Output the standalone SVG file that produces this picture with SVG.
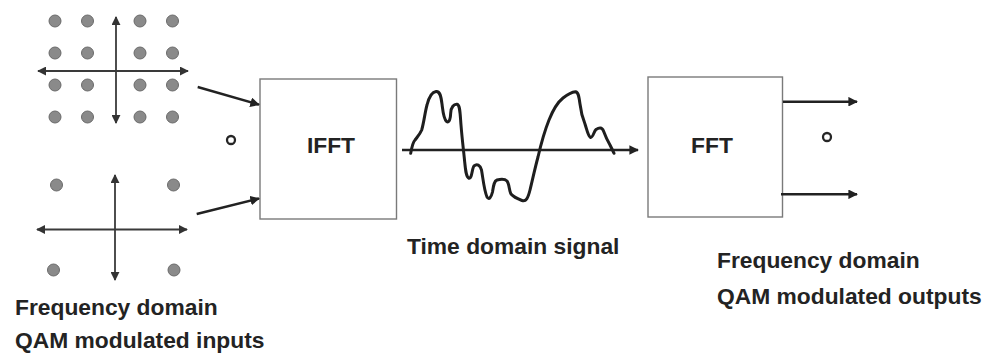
<svg xmlns="http://www.w3.org/2000/svg" width="986" height="354" viewBox="0 0 986 354">
  <style>
    .lbl { font-family: "Liberation Sans", Arial, sans-serif; font-weight: bold; font-size: 22.8px; fill: #232323; }
    .box { fill: #ffffff; stroke: #7a7a7a; stroke-width: 1.4; }
    .axis { stroke: #3a3a3a; stroke-width: 1.8; fill: none; }
    .conn { stroke: #222222; stroke-width: 2.4; fill: none; }
    .dot { fill: #8a8a8a; stroke: #6a6a6a; stroke-width: 1; }
    .ring { fill: none; stroke: #262626; stroke-width: 2.3; }
    .wave { fill: none; stroke: #1e1e1e; stroke-width: 3; stroke-linejoin: round; stroke-linecap: round; }
  </style>
  <defs>
    <marker id="head" viewBox="0 0 10 10" refX="9" refY="5" markerWidth="4" markerHeight="4" orient="auto-start-reverse" markerUnits="strokeWidth">
      <path d="M0,0 L10,5 L0,10 z" fill="#222222"/>
    </marker>
    <marker id="axhead" viewBox="0 0 10 10" refX="9" refY="5" markerWidth="5" markerHeight="5" orient="auto-start-reverse" markerUnits="strokeWidth">
      <path d="M0,0 L10,5 L0,10 z" fill="#333333"/>
    </marker>
  </defs>

  <rect width="986" height="354" fill="#ffffff"/>

  <!-- 16-QAM constellation -->
  <g id="qam16">
    <line class="axis" x1="38" y1="71" x2="188" y2="71" marker-start="url(#axhead)" marker-end="url(#axhead)"/>
    <line class="axis" x1="116" y1="17" x2="116" y2="123" marker-start="url(#axhead)" marker-end="url(#axhead)"/>
    <circle class="dot" cx="55" cy="21" r="6"/>
    <circle class="dot" cx="87.5" cy="21" r="6"/>
    <circle class="dot" cx="140" cy="21" r="6"/>
    <circle class="dot" cx="172.5" cy="21" r="6"/>
    <circle class="dot" cx="55" cy="53" r="6"/>
    <circle class="dot" cx="87.5" cy="53" r="6"/>
    <circle class="dot" cx="140" cy="53" r="6"/>
    <circle class="dot" cx="172.5" cy="53" r="6"/>
    <circle class="dot" cx="55" cy="85" r="6"/>
    <circle class="dot" cx="87.5" cy="85" r="6"/>
    <circle class="dot" cx="140" cy="85" r="6"/>
    <circle class="dot" cx="172.5" cy="85" r="6"/>
    <circle class="dot" cx="55" cy="117" r="6"/>
    <circle class="dot" cx="87.5" cy="117" r="6"/>
    <circle class="dot" cx="140" cy="117" r="6"/>
    <circle class="dot" cx="172.5" cy="117" r="6"/>
  </g>

  <!-- 4-QAM constellation -->
  <g id="qam4">
    <line class="axis" x1="37" y1="229.5" x2="187" y2="229.5" marker-start="url(#axhead)" marker-end="url(#axhead)"/>
    <line class="axis" x1="115" y1="175" x2="115" y2="280" marker-start="url(#axhead)" marker-end="url(#axhead)"/>
    <circle class="dot" cx="56.5" cy="185" r="6"/>
    <circle class="dot" cx="173.5" cy="185" r="6"/>
    <circle class="dot" cx="53.5" cy="270" r="6"/>
    <circle class="dot" cx="174" cy="270" r="6"/>
  </g>

  <g id="input-dots">
    <circle class="ring" cx="231" cy="140" r="4"/>
  </g>

  <g id="ifft">
    <rect class="box" x="260" y="79" width="136.5" height="140"/>
    <text class="lbl" x="331" y="152.5" text-anchor="middle">IFFT</text>
  </g>

  <g id="fft">
    <rect class="box" x="648" y="77" width="134.5" height="140"/>
    <text class="lbl" x="712" y="153" text-anchor="middle">FFT</text>
  </g>

  <g id="output-dots">
    <circle class="ring" cx="827" cy="137" r="4"/>
  </g>

  <!-- time-domain waveform -->
  <g id="time-signal">
    <line class="conn" x1="402" y1="150" x2="638" y2="150" marker-end="url(#head)"/>
    <path class="wave" d="M410.7,153.3 C412,146 413,142 415,140 C418,136 420,134 421.7,130 C424,122 425,112 427,105 C429,97 432,92 436,91.5 C440,91 441,96 442,104 C443,112 443.5,119 446.7,121.7 C449.5,123 450.5,118 450.7,113 C451,107 454,104 457,104.3 C460,105 460,112 461,125 C462,138 463.5,150 464.5,160 C465.5,170 466,177 469,178.3 C472,179 472,168 474,166 C477,163.5 480,165 481.5,170 C483,178 484,190 487,197 C489,200 491,198 492.5,192 C493.5,186 494,181 497,180 C501,179 505,179 507,181 C509.5,184 509,191 511,194 C514,197.5 518,199 522,200.5 C526,202 528,198 530,190 C532,182 535,168 538,157 C541,144 545,130 549,120 C553,110 558,102 563,98 C568,94 572,92 575.5,91.7 C578.5,92 579,97 580,104 C581,113 583,119 585,124 C587,130 588,136 590.5,137.5 C593,138 594,131 596,129.5 C599,127.5 602,127 603.5,131 C605,135 607,140 610,145 C612,149 613.5,152 614,153.3"/>
  </g>

  <g id="connectors">
    <line class="conn" x1="197.7" y1="87" x2="259" y2="104.7" marker-end="url(#head)"/>
    <line class="conn" x1="196.7" y1="214" x2="259" y2="198.5" marker-end="url(#head)"/>
    <line class="conn" x1="783" y1="101.7" x2="857" y2="101.7" marker-end="url(#head)"/>
    <line class="conn" x1="781" y1="194.3" x2="857" y2="194.3" marker-end="url(#head)"/>
  </g>

  <g id="labels">
    <text class="lbl" x="407" y="254">Time domain signal</text>
    <text class="lbl" x="15" y="315">Frequency domain</text>
    <text class="lbl" x="15" y="348">QAM modulated inputs</text>
    <text class="lbl" x="717" y="268">Frequency domain</text>
    <text class="lbl" x="717" y="304">QAM modulated outputs</text>
  </g>
</svg>
